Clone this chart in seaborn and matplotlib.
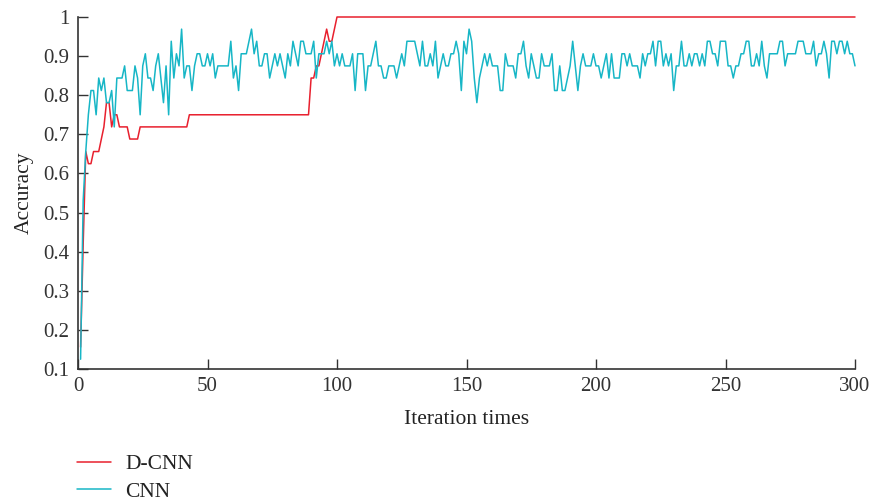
import numpy as np
import pandas as pd
import seaborn as sns
import matplotlib.pyplot as plt

# iteration index 1..300
iterations = list(range(1, 301))

# D-CNN accuracy
dcnn_acc = ([0.156, 0.42, 0.656, 0.625, 0.625, 0.656, 0.656, 0.656, 0.688, 0.719,
             0.781, 0.781, 0.719, 0.75, 0.75, 0.719, 0.719, 0.719, 0.719, 0.688,
             0.688, 0.688, 0.688]
            + [0.719] * 19      # 24..42
            + [0.75] * 47       # 43..89
            + [0.844, 0.844, 0.875, 0.875, 0.906, 0.938, 0.969, 0.938, 0.938, 0.969]
            + [1.0] * 201)      # 100..300

# CNN accuracy
cnn_acc = [
    0.125, 0.531, 0.656, 0.75, 0.812, 0.812, 0.75, 0.844, 0.812, 0.844,
    0.781, 0.781, 0.812, 0.719, 0.844, 0.844, 0.844, 0.875, 0.812, 0.812,
    0.812, 0.875, 0.844, 0.75, 0.875, 0.906, 0.844, 0.844, 0.812, 0.875,
    0.906, 0.844, 0.781, 0.875, 0.75, 0.938, 0.844, 0.906, 0.875, 0.969,
    0.844, 0.875, 0.875, 0.812, 0.875, 0.906, 0.906, 0.875, 0.875, 0.906,
    0.875, 0.906, 0.844, 0.875, 0.875, 0.875, 0.875, 0.875, 0.938, 0.844,
    0.875, 0.812, 0.906, 0.906, 0.906, 0.938, 0.969, 0.906, 0.938, 0.875,
    0.875, 0.906, 0.906, 0.844, 0.875, 0.906, 0.875, 0.906, 0.875, 0.844,
    0.906, 0.875, 0.938, 0.906, 0.875, 0.938, 0.938, 0.906, 0.906, 0.906,
    0.938, 0.844, 0.906, 0.906, 0.906, 0.938, 0.906, 0.938, 0.875, 0.906,
    0.875, 0.906, 0.875, 0.875, 0.875, 0.906, 0.812, 0.906, 0.906, 0.906,
    0.812, 0.875, 0.875, 0.906, 0.938, 0.875, 0.875, 0.844, 0.844, 0.875,
    0.875, 0.875, 0.844, 0.875, 0.906, 0.875, 0.938, 0.938, 0.938, 0.938,
    0.906, 0.875, 0.938, 0.875, 0.875, 0.906, 0.875, 0.938, 0.844, 0.875,
    0.906, 0.875, 0.875, 0.906, 0.906, 0.938, 0.906, 0.812, 0.938, 0.906,
    0.969, 0.938, 0.844, 0.781, 0.844, 0.875, 0.906, 0.875, 0.906, 0.875,
    0.875, 0.875, 0.812, 0.812, 0.906, 0.875, 0.875, 0.875, 0.844, 0.906,
    0.906, 0.938, 0.875, 0.844, 0.906, 0.875, 0.844, 0.844, 0.906, 0.875,
    0.875, 0.875, 0.906, 0.812, 0.812, 0.875, 0.812, 0.812, 0.844, 0.875,
    0.938, 0.875, 0.812, 0.875, 0.906, 0.875, 0.875, 0.875, 0.906, 0.875,
    0.875, 0.844, 0.875, 0.906, 0.844, 0.906, 0.844, 0.844, 0.844, 0.906,
    0.906, 0.875, 0.906, 0.875, 0.875, 0.875, 0.844, 0.906, 0.875, 0.906,
    0.906, 0.938, 0.875, 0.938, 0.938, 0.875, 0.906, 0.875, 0.906, 0.812,
    0.875, 0.875, 0.938, 0.875, 0.875, 0.906, 0.875, 0.906, 0.906, 0.875,
    0.906, 0.875, 0.938, 0.938, 0.906, 0.906, 0.875, 0.938, 0.938, 0.938,
    0.875, 0.875, 0.844, 0.875, 0.875, 0.906, 0.906, 0.938, 0.938, 0.875,
    0.875, 0.906, 0.875, 0.938, 0.875, 0.844, 0.906, 0.906, 0.906, 0.906,
    0.938, 0.938, 0.875, 0.906, 0.906, 0.906, 0.906, 0.938, 0.938, 0.938,
    0.906, 0.906, 0.906, 0.938, 0.875, 0.906, 0.906, 0.938, 0.906, 0.844,
    0.938, 0.938, 0.906, 0.938, 0.938, 0.906, 0.938, 0.906, 0.906, 0.875,
]

series_names = ["D-CNN", "CNN"]
colors = {"D-CNN": "#e8202e", "CNN": "#17b6c6"}

df = pd.DataFrame({
    "iteration": iterations * 2,
    "accuracy": dcnn_acc + cnn_acc,
    "model": ["D-CNN"] * 300 + ["CNN"] * 300,
})

sns.set_style("ticks")
plt.rcParams["font.family"] = ["Liberation Serif", "DejaVu Serif"]

fig = plt.figure(figsize=(8.71, 5.01), dpi=100)
ax = fig.add_axes([78 / 871, 1 - 369 / 501, (855 - 78) / 871, (369 - 17) / 501])

sns.lineplot(data=df, x="iteration", y="accuracy", hue="model", hue_order=series_names,
             palette=colors, linewidth=1.1, ax=ax, legend=False)
for line in ax.lines:
    line.set_clip_on(False)

ax.set_xlim(0, 300)
ax.set_ylim(0.1, 1.0)
ax.set_xticks([0, 50, 100, 150, 200, 250, 300])
ax.set_yticks([0.1, 0.2, 0.3, 0.4, 0.5, 0.6, 0.7, 0.8, 0.9, 1.0])
ax.set_yticklabels(["0.1", "0.2", "0.3", "0.4", "0.5", "0.6", "0.7", "0.8", "0.9", "1"])
ax.tick_params(direction="in", length=7.5, width=1, labelsize=15, colors="#333333")
ax.tick_params(axis="x", pad=6)
ax.tick_params(axis="y", pad=6)
for s in ["top", "right"]:
    ax.spines[s].set_visible(False)
for s in ["left", "bottom"]:
    ax.spines[s].set_color("#333333")
    ax.spines[s].set_linewidth(1.2)

ax.set_xlabel("Iteration times", fontsize=15.5, color="#222222", labelpad=10)
ax.set_ylabel("Accuracy", fontsize=15.5, color="#222222", labelpad=7)

handles = [plt.Line2D([], [], color=colors[n], linewidth=1.1) for n in series_names]
fig.legend(handles, series_names, loc="upper left", bbox_to_anchor=(77 / 871, 1 - 454 / 501),
           frameon=False, fontsize=15.5, handlelength=1.6, handletextpad=0.65,
           labelspacing=0.35, borderpad=0, borderaxespad=0, labelcolor="#222222")

fig.savefig("out.png", dpi=100)
